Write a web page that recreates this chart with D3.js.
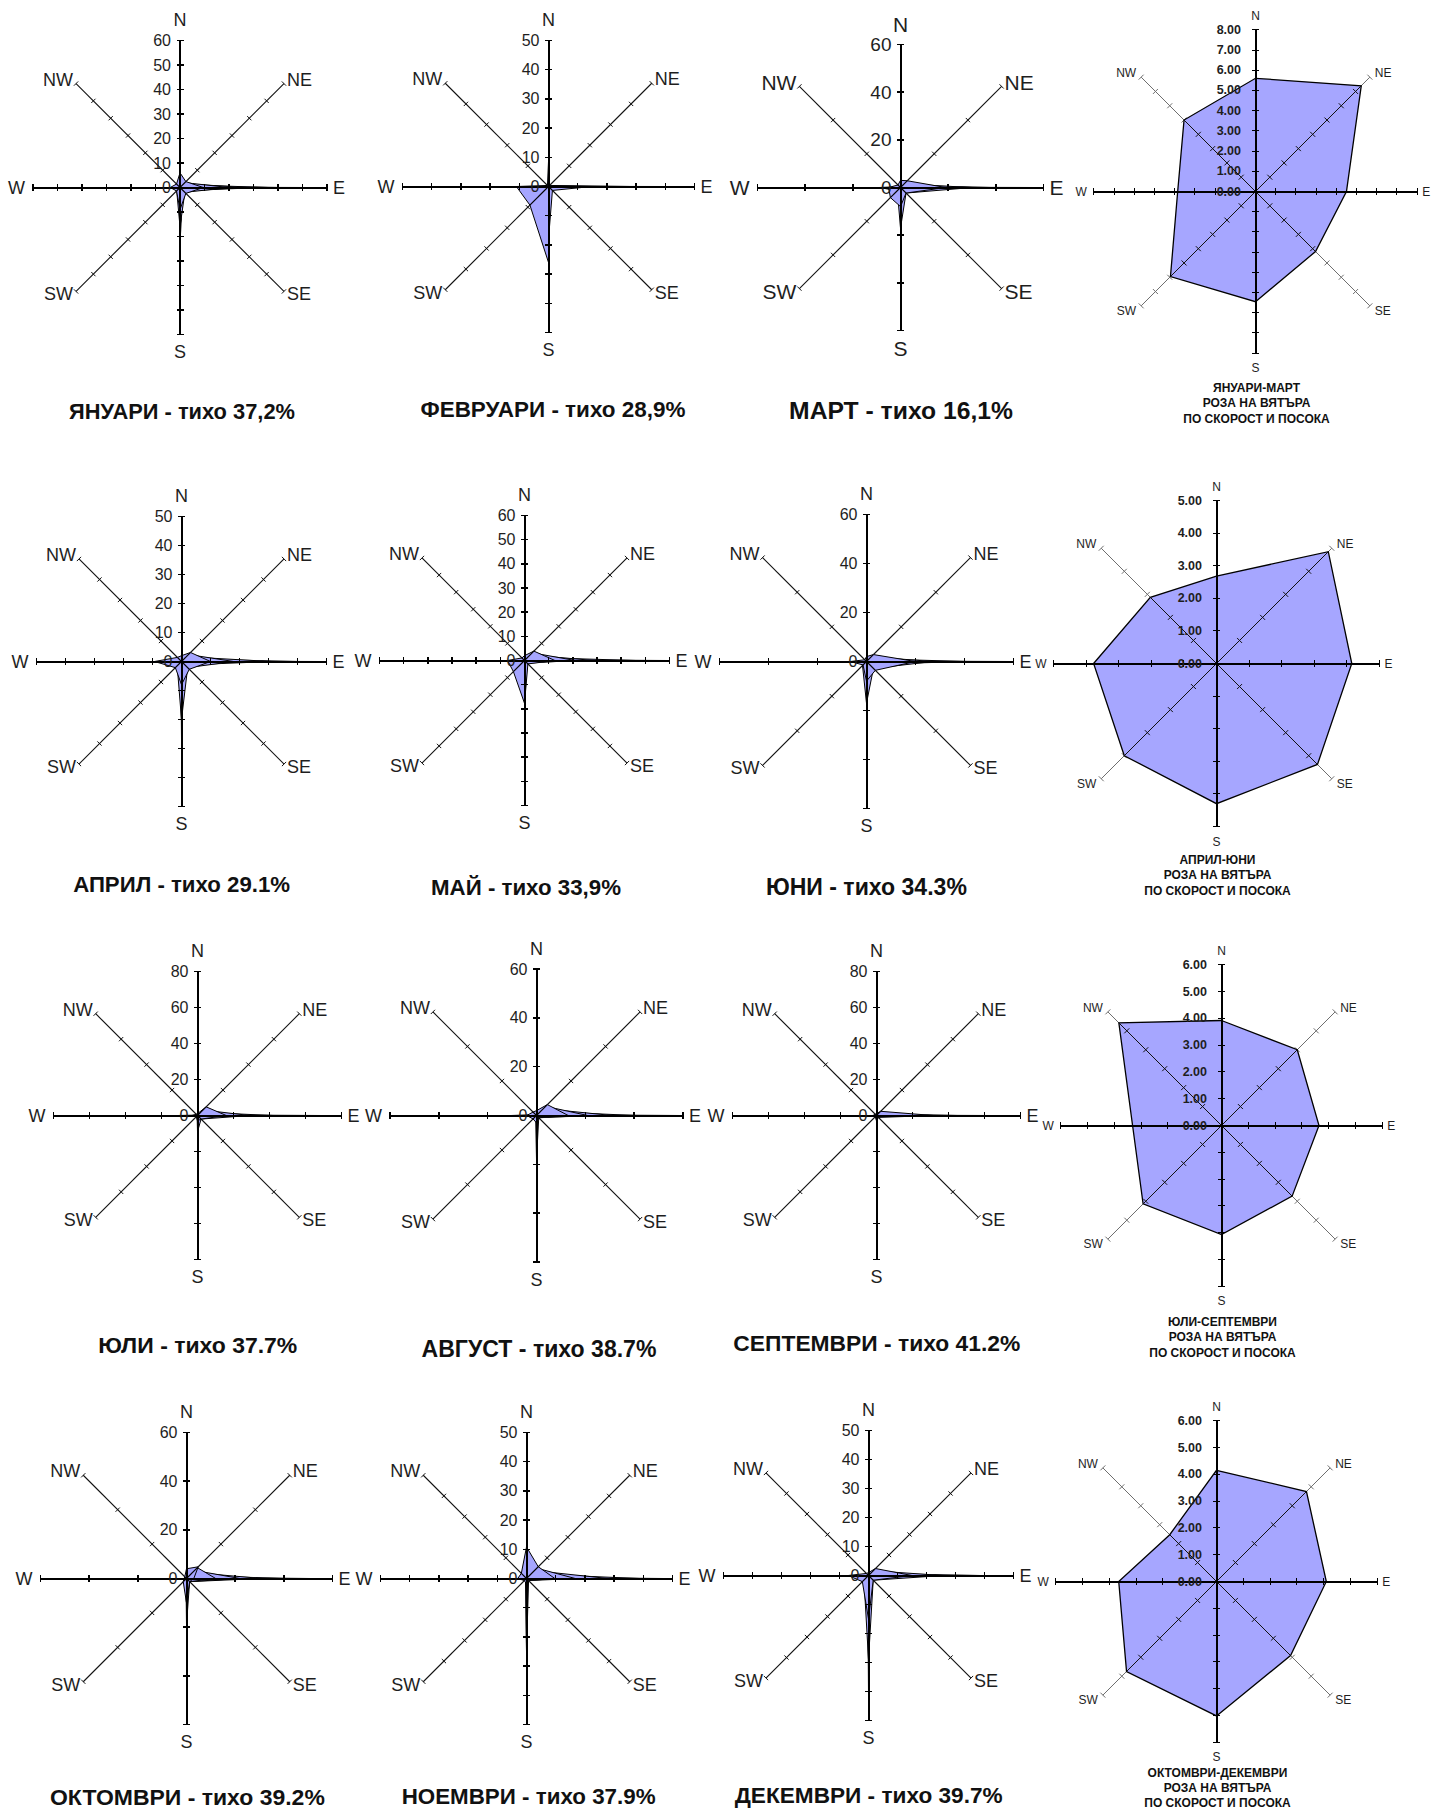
<!DOCTYPE html>
<html><head><meta charset="utf-8">
<script src="https://cdn.jsdelivr.net/npm/d3@7"></script>
<style>body{margin:0;background:#fff}svg{display:block}</style>
</head><body>
<svg id="c" width="1432" height="1813"></svg>
<script>
// ---------- DATA ----------
const directions = ["N", "NE", "E", "SE", "S", "SW", "W", "NW"];

const monthTitles = [
  "ЯНУАРИ - тихо 37,2%", "ФЕВРУАРИ - тихо 28,9%", "МАРТ - тихо 16,1%",
  "АПРИЛ - тихо 29.1%", "МАЙ - тихо 33,9%", "ЮНИ - тихо 34.3%",
  "ЮЛИ - тихо 37.7%", "АВГУСТ - тихо 38.7%", "СЕПТЕМВРИ - тихо 41.2%",
  "ОКТОМВРИ - тихо 39.2%", "НОЕМВРИ - тихо 37.9%", "ДЕКЕМВРИ - тихо 39.7%"
];
const monthMax = [60, 50, 60, 50, 60, 60, 80, 60, 80, 60, 50, 50];
const monthStep = [10, 10, 20, 10, 10, 20, 20, 20, 20, 20, 10, 10];

// series per month, values in order N, NE, E, SE, S, SW, W, NW (%)
const jan = [
  [6, 3.4, 9.5, 3.4, 9, 2, 4, 2],
  [2, 2.8, 20, 2.8, 16, 1.9, 3, 1],
  [0, 2.2, 27, 2.2, 16, 1, 1, 0],
  [0, 1.6, 36, 1.6, 23, 0.4, 0, 0],
  [0, 0.8, 40, 0.8, 0, 0, 0, 0],
  [0, 0.2, 52, 0.2, 0, 0, 0, 0]
];
const feb = [
  [1, 0.5, 3, 0.5, 26, 9, 11, 0.5],
  [0.5, 0.3, 14.7, 1.9, 18, 1, 2, 0.3],
  [8.6, 0.5, 28, 0.8, 26, 0.3, 1, 0.5],
  [0, 0.1, 38, 0.2, 0, 0, 0, 0]
];
const mar = [
  [3, 4, 19, 3.3, 8, 6, 5, 1.5],
  [1, 2.1, 30, 3.3, 17, 1.9, 9, 0.5],
  [0, 1.3, 38, 1.3, 17, 0.3, 0, 0],
  [0, 0.2, 56, 0.2, 0, 0, 0, 0]
];
const apr = [
  [2, 4.4, 10, 3.8, 8, 3, 9.3, 2],
  [1, 3.4, 18, 3, 20, 2.1, 5, 1],
  [0, 2.3, 31, 1.7, 20, 1, 2, 0],
  [0, 1.2, 40, 0.7, 27, 0.3, 0, 0],
  [0, 0.2, 48, 0.2, 0, 0, 0, 0]
];
const may = [
  [2, 5.5, 12.6, 2, 17.7, 6.5, 7, 1.5],
  [1, 4.5, 21, 1.5, 17.7, 1, 3, 0.5],
  [0, 3.2, 29, 1, 0, 0, 0, 0],
  [0, 1.9, 46, 0.5, 0, 0, 0, 0],
  [0, 0.5, 59, 0.2, 0, 0, 0, 0]
];
const jun = [
  [2, 4, 20, 5.1, 8, 2, 6.6, 1],
  [1, 2.7, 27, 4, 17, 2.3, 3, 0.5],
  [0, 1.6, 41, 1.6, 17, 0.5, 0, 0],
  [0, 0.3, 59, 0.3, 23, 0, 0, 0]
];
const jul = [
  [1, 6.8, 16, 2.8, 3, 1, 3, 1],
  [0.5, 4.3, 29, 2.8, 9, 0.3, 11, 0.3],
  [0, 2.5, 42, 1, 0, 0, 0, 0],
  [0, 0.5, 69, 0.3, 0, 0, 0, 0]
];
const aug = [
  [2, 6.3, 13, 1.3, 3, 2, 4, 2],
  [1, 5.3, 21, 1.3, 18, 0.5, 10.5, 0.5],
  [0, 4, 31, 1, 0, 0, 0.2, 0],
  [0, 2.4, 40.7, 0.7, 0, 0, 0, 0],
  [0, 0.5, 59, 0.3, 0, 0, 0, 0]
];
const sep = [
  [1, 3.3, 31.6, 1.5, 3, 1, 2, 1],
  [0, 1.3, 45, 0.6, 19, 0, 1, 0],
  [0, 0.3, 64, 0.2, 0, 0, 0, 0]
];
const oct = [
  [4, 6.8, 3, 1.8, 10, 1.9, 1, 1],
  [1, 6.3, 12, 1.8, 10, 1, 1, 0.3],
  [0, 4.7, 22, 1.8, 19, 0.3, 0, 0],
  [0, 3.5, 31, 1.8, 0, 0, 0, 0],
  [0, 1.8, 40, 0.5, 0, 0, 0, 0],
  [0, 0.75, 51, 0.3, 0, 0, 0, 0]
];
const nov = [
  [10.8, 5.7, 9.7, 1, 2, 1, 3, 2.5],
  [3, 5, 16.7, 1, 25, 0.5, 1, 0.5],
  [0, 3.8, 28, 0.6, 25, 0.3, 0, 0],
  [0, 2.2, 38.7, 0.4, 0, 0, 0, 0],
  [0, 0.6, 46.8, 0.2, 0, 0, 0, 0]
];
const dec = [
  [1, 3.4, 15, 2.3, 15, 3, 7, 1],
  [0.5, 2.3, 25.6, 2.3, 29, 2.2, 2, 0.3],
  [0, 1, 38.5, 0.5, 29, 1, 0, 0],
  [0, 0.2, 38.5, 0.2, 40.8, 0.4, 0, 0]
];
const monthSeries = [jan, feb, mar, apr, may, jun, jul, aug, sep, oct, nov, dec];

// quarterly mean wind speed by direction (m/s)
const quarterTitles = [
  ["ЯНУАРИ-МАРТ", "РОЗА НА ВЯТЪРА", "ПО СКОРОСТ И ПОСОКА"],
  ["АПРИЛ-ЮНИ", "РОЗА НА ВЯТЪРА", "ПО СКОРОСТ И ПОСОКА"],
  ["ЮЛИ-СЕПТЕМВРИ", "РОЗА НА ВЯТЪРА", "ПО СКОРОСТ И ПОСОКА"],
  ["ОКТОМВРИ-ДЕКЕМВРИ", "РОЗА НА ВЯТЪРА", "ПО СКОРОСТ И ПОСОКА"]
];
const quarterMax = [8, 5, 6, 6];
const quarterStep = [1, 1, 1, 1];
const q1 = [5.6, 7.4, 4.5, 4.2, 5.45, 5.95, 3.85, 5.0];
const q2 = [2.68, 4.85, 4.15, 4.38, 4.3, 4.0, 3.77, 2.87];
const q3 = [3.92, 4.0, 3.64, 3.73, 4.07, 4.14, 3.32, 5.42];
const q4 = [4.15, 4.75, 4.1, 3.91, 5.02, 4.75, 3.65, 2.47];
const quarterSeries = [[q1], [q2], [q3], [q4]];

// ---------- LAYOUT ----------
const monthPos = [
  [180, 187.5, 147], [548.5, 186.5, 146], [900.5, 187.5, 143],
  [181.5, 661.5, 145], [524.5, 660.5, 145], [866.5, 661.5, 147],
  [197.5, 1115.5, 144], [536.5, 1115.5, 146.5], [876.5, 1115.5, 144],
  [186.5, 1578.5, 146], [526.5, 1578.5, 146], [868.5, 1575.5, 145]
];
const monthTitlePos = [
  [182, 411.7], [553, 409.5], [901, 410.6],
  [181.6, 884.8], [526, 887], [866.4, 887],
  [197.8, 1345], [539, 1348.7], [876.8, 1343],
  [187.4, 1796.5], [528.6, 1796], [868.7, 1795]
];
const monthTitleW = [226, 265, 224, 217, 190, 201, 199, 235, 287, 275, 254, 268];
const quarterPos = [[1255.5, 191.5, 161.7], [1216.5, 663.5, 163], [1221.5, 1125.5, 160.7], [1216.5, 1581.5, 160.7]];
const quarterTitleOff = [196.7, 196.7, 196.7, 191.5];

const FONT = "'Liberation Sans', Arial, sans-serif";
const FILL = "#a6a6ff";
const svg = d3.select("#c");
let clipCount = 0;

function rose(o) {
  const g = svg.append("g").attr("transform", `translate(${o.cx},${o.cy})`);
  const s = d3.scaleLinear().domain([0, o.max]).range([0, o.r]);
  const ticks = d3.range(o.step, o.max + o.step / 2, o.step);
  const ang = i => i * Math.PI / 4;
  const pt = (i, v) => [Math.sin(ang(i)) * s(v), -Math.cos(ang(i)) * s(v)];
  const radial = d3.lineRadial().angle((d, i) => ang(i)).radius(d => s(d)).curve(d3.curveLinearClosed);

  function drawAxis(parent, i, color, width, tl, tw, crisp) {
    const [ex, ey] = pt(i, o.max);
    const ax = parent.append("g");
    if (crisp) ax.attr("shape-rendering", "crispEdges");
    ax.append("line").attr("x1", 0).attr("y1", 0).attr("x2", ex).attr("y2", ey)
      .attr("stroke", color).attr("stroke-width", width);
    const px = Math.cos(ang(i)), py = Math.sin(ang(i));
    ticks.forEach(t => {
      const [x, y] = pt(i, t);
      ax.append("line").attr("x1", x - px * tl).attr("y1", y - py * tl)
        .attr("x2", x + px * tl).attr("y2", y + py * tl)
        .attr("stroke", color).attr("stroke-width", tw);
    });
  }

  [1, 3, 5, 7].forEach(i => drawAxis(g, i, o.diagOuter, o.diagW, o.diagTick, 1, false));

  const cid = "clip" + (clipCount++);
  const cp = g.append("clipPath").attr("id", cid);
  o.series.forEach(ser => cp.append("path").attr("d", radial(ser)));
  // long, narrow series at the back; short, wide ones in front
  o.series.slice().reverse().forEach(ser => {
    g.append("path").attr("d", radial(ser)).attr("fill", FILL)
      .attr("stroke", "#000").attr("stroke-width", o.polyW).attr("stroke-linejoin", "miter");
  });

  const inner = g.append("g").attr("clip-path", `url(#${cid})`);
  [1, 3, 5, 7].forEach(i => drawAxis(inner, i, o.diagInner, o.diagW, o.diagTick, 1, false));

  [0, 2, 4, 6].forEach(i => drawAxis(g, i, "#000", o.axisW, o.cardTick, o.cardTickW, true));

  [0].concat(ticks).forEach(t => {
    g.append("text").attr("x", -o.tickOff).attr("y", -s(t))
      .attr("text-anchor", "end").attr("dominant-baseline", "central")
      .attr("font-family", FONT).attr("font-size", o.tickFs).attr("font-weight", o.tickWeight)
      .attr("fill", "#1e1e1e").text(o.fmt(t));
  });

  directions.forEach((d, i) => {
    const [ex, ey] = pt(i, o.max);
    const L = o.lab;
    let x = ex, y = ey, anchor = "middle";
    if (d === "N") { y = ey - L.n; }
    else if (d === "S") { y = ey + L.s; }
    else if (d === "E") { x = ex + L.e; anchor = "start"; }
    else if (d === "W") { x = ex - L.w; anchor = "end"; }
    else if (d === "NE") { x = ex + L.dx; y = ey - L.dyU; anchor = "start"; }
    else if (d === "SE") { x = ex + L.dx; y = ey + L.dyD; anchor = "start"; }
    else if (d === "SW") { x = ex - L.dx; y = ey + L.dyD; anchor = "end"; }
    else if (d === "NW") { x = ex - L.dx; y = ey - L.dyU; anchor = "end"; }
    g.append("text").attr("x", x).attr("y", y).attr("text-anchor", anchor)
      .attr("dominant-baseline", "central").attr("font-family", FONT)
      .attr("font-size", o.labFs).attr("fill", "#1e1e1e").text(d);
  });
  return g;
}

monthSeries.forEach((ser, m) => {
  const [cx, cy, r] = monthPos[m];
  const big = (m === 2);
  rose({
    cx, cy, r, max: monthMax[m], step: monthStep[m], series: ser,
    diagOuter: "#111", diagInner: "#000", diagW: 1.1, diagTick: 3, cardTick: 3.5,
    axisW: 2, cardTickW: 1.5, polyW: 1,
    tickOff: 9, tickFs: big ? 19 : 16, tickWeight: "normal", fmt: d3.format("d"),
    labFs: big ? 21 : 18,
    lab: { n: 20.5, s: 17.5, e: 6, w: 8, dx: 3, dyU: 4, dyD: 3 }
  });
  const [tx, ty] = monthTitlePos[m];
  const t = svg.append("text").attr("x", tx).attr("y", ty).attr("text-anchor", "middle")
    .attr("dominant-baseline", "central").attr("font-family", FONT).attr("font-weight", "bold")
    .attr("font-size", 20).attr("fill", "#111").text(monthTitles[m]);
  const w = t.node().getComputedTextLength();
  if (w > 0) t.attr("font-size", (20 * monthTitleW[m] / w).toFixed(2));
});

quarterSeries.forEach((ser, q) => {
  const [cx, cy, r] = quarterPos[q];
  rose({
    cx, cy, r, max: quarterMax[q], step: quarterStep[q], series: ser,
    diagOuter: "#6e6e6e", diagInner: "#111", diagW: 1, diagTick: 3.5, cardTick: 3.5,
    axisW: 2, cardTickW: 1, polyW: 1.3,
    tickOff: 14.5, tickFs: 12.5, tickWeight: "bold", fmt: d3.format(".2f"),
    labFs: 12,
    lab: { n: 14, s: 15, e: 5, w: 7, dx: 5, dyU: 4, dyD: 5 }
  });
  quarterTitles[q].forEach((line, k) => {
    svg.append("text").attr("x", cx + 1).attr("y", cy + quarterTitleOff[q] + k * 15.2)
      .attr("text-anchor", "middle").attr("dominant-baseline", "central")
      .attr("font-family", FONT).attr("font-weight", "bold").attr("font-size", 12)
      .attr("fill", "#111").text(line);
  });
});
</script>
</body></html>
